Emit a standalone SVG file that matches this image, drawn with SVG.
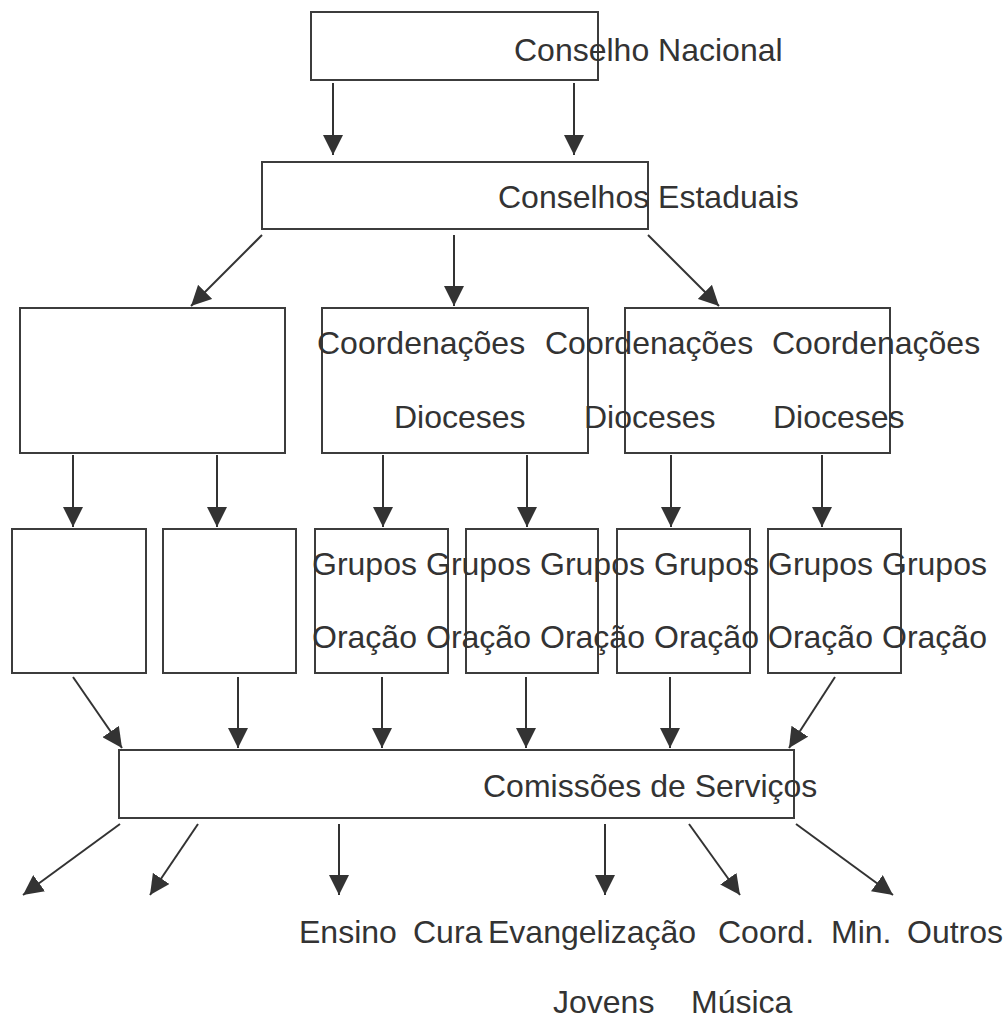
<svg xmlns="http://www.w3.org/2000/svg" width="1003" height="1021" viewBox="0 0 1003 1021">
<style>
.box{fill:#fff;stroke:#3c3c3c;stroke-width:2}
.ln{stroke:#333;stroke-width:2;fill:none;marker-end:url(#ah)}
.t{font-family:"Liberation Sans",Arial,sans-serif;font-size:32px;fill:#333}
</style>
<defs>
<marker id="ah" markerUnits="userSpaceOnUse" markerWidth="20" markerHeight="20" refX="20" refY="10" orient="auto">
<path d="M0,0 L20,10 L0,20 z" fill="#333"/>
</marker>
</defs>
<rect width="1003" height="1021" fill="#fff"/>
<g id="nodes">
<g id="conselho-nacional"><rect class="box" x="311" y="12" width="287" height="68"/></g>
<g id="conselhos-estaduais"><rect class="box" x="262" y="162" width="386" height="67"/></g>
<g id="coord-1"><rect class="box" x="20" y="308" width="265" height="145"/></g>
<g id="coord-2"><rect class="box" x="322" y="308" width="266" height="145"/></g>
<g id="coord-3"><rect class="box" x="625" y="308" width="265" height="145"/></g>
<g id="grupo-1"><rect class="box" x="12" y="529" width="134" height="144"/></g>
<g id="grupo-2"><rect class="box" x="163" y="529" width="133" height="144"/></g>
<g id="grupo-3"><rect class="box" x="315" y="529" width="133" height="144"/></g>
<g id="grupo-4"><rect class="box" x="466" y="529" width="132" height="144"/></g>
<g id="grupo-5"><rect class="box" x="617" y="529" width="133" height="144"/></g>
<g id="grupo-6"><rect class="box" x="768" y="529" width="133" height="144"/></g>
<g id="comissoes"><rect class="box" x="119" y="750" width="675" height="68"/></g>
</g>
<g id="connectors">
<line class="ln" x1="333" y1="83" x2="333" y2="155"/>
<line class="ln" x1="574" y1="83" x2="574" y2="155"/>
<line class="ln" x1="262" y1="235" x2="191" y2="306"/>
<line class="ln" x1="454" y1="235" x2="454" y2="306"/>
<line class="ln" x1="648" y1="235" x2="719" y2="306"/>
<line class="ln" x1="73" y1="455" x2="73" y2="527"/>
<line class="ln" x1="217" y1="455" x2="217" y2="527"/>
<line class="ln" x1="383" y1="455" x2="383" y2="527"/>
<line class="ln" x1="527" y1="455" x2="527" y2="527"/>
<line class="ln" x1="671" y1="455" x2="671" y2="527"/>
<line class="ln" x1="822" y1="455" x2="822" y2="527"/>
<line class="ln" x1="73" y1="677" x2="122" y2="748"/>
<line class="ln" x1="238" y1="677" x2="238" y2="748"/>
<line class="ln" x1="382" y1="677" x2="382" y2="748"/>
<line class="ln" x1="526" y1="677" x2="526" y2="748"/>
<line class="ln" x1="670" y1="677" x2="670" y2="748"/>
<line class="ln" x1="835" y1="677" x2="789" y2="748"/>
<line class="ln" x1="120" y1="824" x2="23" y2="895"/>
<line class="ln" x1="198" y1="824" x2="150" y2="895"/>
<line class="ln" x1="339" y1="824" x2="339" y2="895"/>
<line class="ln" x1="605" y1="824" x2="605" y2="895"/>
<line class="ln" x1="689" y1="824" x2="740" y2="895"/>
<line class="ln" x1="796" y1="824" x2="893" y2="895"/>
</g>
<g id="labels">
<text class="t" x="514" y="61">Conselho Nacional</text>
<text class="t" x="498" y="208">Conselhos Estaduais</text>
<text class="t" x="317" y="354">Coordenações</text>
<text class="t" x="545" y="354">Coordenações</text>
<text class="t" x="772" y="354">Coordenações</text>
<text class="t" x="394" y="428">Dioceses</text>
<text class="t" x="584" y="428">Dioceses</text>
<text class="t" x="773" y="428">Dioceses</text>
<text class="t" x="312" y="575">Grupos</text>
<text class="t" x="426" y="575">Grupos</text>
<text class="t" x="540" y="575">Grupos</text>
<text class="t" x="654" y="575">Grupos</text>
<text class="t" x="768" y="575">Grupos</text>
<text class="t" x="882" y="575">Grupos</text>
<text class="t" x="312" y="648">Oração</text>
<text class="t" x="426" y="648">Oração</text>
<text class="t" x="540" y="648">Oração</text>
<text class="t" x="654" y="648">Oração</text>
<text class="t" x="768" y="648">Oração</text>
<text class="t" x="882" y="648">Oração</text>
<text class="t" x="483" y="797">Comissões de Serviços</text>
<text class="t" x="299" y="943">Ensino</text>
<text class="t" x="413" y="943">Cura</text>
<text class="t" x="488" y="943">Evangelização</text>
<text class="t" x="718" y="943">Coord.</text>
<text class="t" x="831" y="943">Min.</text>
<text class="t" x="907" y="943">Outros</text>
<text class="t" x="553" y="1013">Jovens</text>
<text class="t" x="691" y="1013">Música</text>
</g>
</svg>
